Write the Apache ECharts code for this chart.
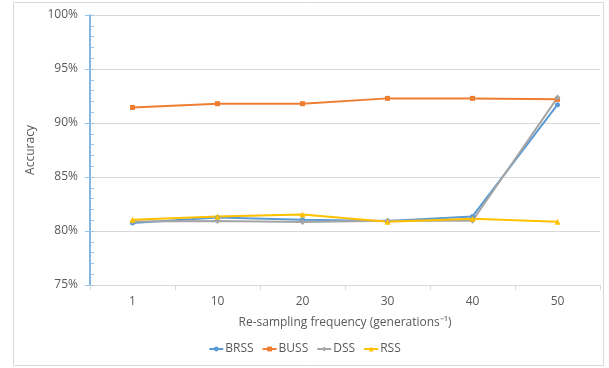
<!DOCTYPE html>
<html><head><meta charset="utf-8">
<script src="https://cdn.jsdelivr.net/npm/echarts@6/dist/echarts.min.js"></script>
<style>html,body{margin:0;padding:0;background:#fff}#c{width:609px;height:368px}</style>
</head><body><div id="c"></div>
<script>
const categories = ['1','10','20','30','40','50'];
const brss = [80.74, 81.25, 81.05, 80.92, 81.35, 91.7];
const buss = [91.44, 91.79, 91.79, 92.28, 92.28, 92.19];
const dss  = [80.88, 80.93, 80.83, 80.95, 80.95, 92.35];
const rss  = [81.05, 81.35, 81.53, 80.86, 81.13, 80.86];
const yTicks = {min: 75, max: 100, interval: 5};

const chart = echarts.init(document.getElementById('c'));
const font = 'Open Sans, Liberation Sans, sans-serif';
function mk(name, data, color, symbol, size){
  return {name, type:'line', data, symbol, symbolSize:size, showSymbol:true,
    itemStyle:{color}, lineStyle:{color, width:2}};
}
chart.setOption({
  animation:false,
  graphic:[{type:'rect', shape:{x:13.5,y:2.5,width:590,height:363}, style:{fill:'none', stroke:'#d9d9d9', lineWidth:1}, silent:true}],
  grid:{left:90, right:9, top:15, bottom:83},
  xAxis:{type:'category', data:categories, boundaryGap:true,
    name:'Re-sampling frequency (generations\u207B\u00B9)', nameLocation:'middle', nameGap:32,
    nameTextStyle:{color:'#595959', fontSize:12, fontFamily:font},
    axisLine:{lineStyle:{color:'#d9d9d9'}}, axisTick:{show:true, length:5, lineStyle:{color:'#d9d9d9'}},
    axisLabel:{color:'#595959', fontSize:12, fontFamily:font, margin:11}},
  yAxis:[{type:'value', min:yTicks.min, max:yTicks.max, interval:yTicks.interval,
    name:'Accuracy', nameLocation:'middle', nameGap:52, nameRotate:90,
    nameTextStyle:{color:'#595959', fontSize:12, fontFamily:font},
    axisLine:{show:true, lineStyle:{color:'#5B9BD5', width:1.5}},
    axisTick:{show:true, inside:true, length:4, lineStyle:{color:'#9DC3E6'}},
    minorTick:{show:true, splitNumber:5, length:4, lineStyle:{color:'#9DC3E6'}},
    splitLine:{lineStyle:{color:'#d9d9d9'}},
    axisLabel:{color:'#595959', fontSize:12, fontFamily:font, margin:12, formatter:v=>v+'%'}},
   {type:'value', min:yTicks.min, max:yTicks.max, interval:yTicks.interval, position:'left',
    axisLine:{show:false}, axisLabel:{show:false}, splitLine:{show:false},
    axisTick:{show:true, inside:false, length:5, lineStyle:{color:'#9DC3E6'}}}],
  legend:{bottom:8, left:'center', itemWidth:14, itemHeight:6, itemGap:8,
    data:['BRSS','BUSS','DSS','RSS'],
    textStyle:{color:'#595959', fontSize:12, fontFamily:font, padding:[0,0,0,-3]}},
  series:[
    mk('BRSS', brss, '#5B9BD5', 'circle', 5),
    mk('BUSS', buss, '#ED7D31', 'rect', 5),
    mk('DSS', dss, '#A5A5A5', 'diamond', 6),
    mk('RSS', rss, '#FFC000', 'triangle', 6)
  ]
});
</script></body></html>
